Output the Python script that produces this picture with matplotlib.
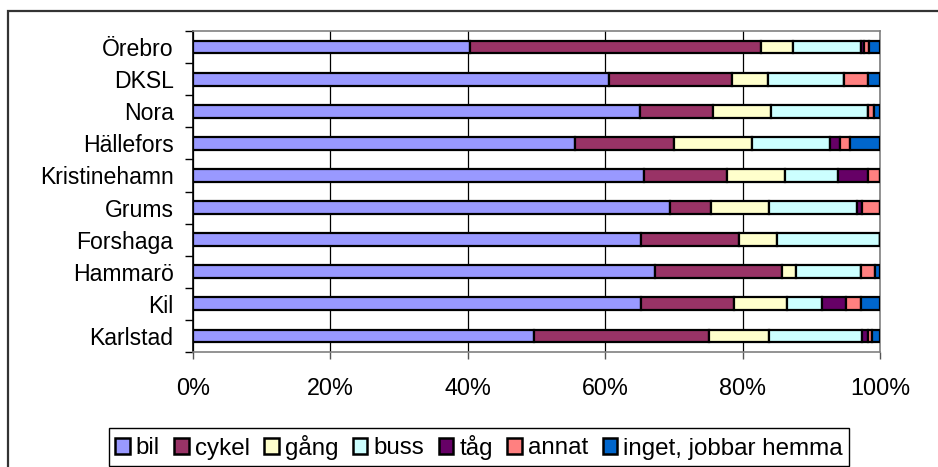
import numpy as np
import matplotlib
matplotlib.use("Agg")
import matplotlib.pyplot as plt
from matplotlib.patches import Patch, Rectangle
from matplotlib.ticker import FixedLocator, PercentFormatter

plt.rcParams['font.family'] = ['Liberation Sans', 'DejaVu Sans']

# kommuner, bottom to top as drawn
orter = ['Karlstad', 'Kil', 'Hammarö', 'Forshaga', 'Grums',
         'Kristinehamn', 'Hällefors', 'Nora', 'DKSL', 'Örebro']

# share of trips (%) per mode, same order as orter
bil = [49.6, 65.2, 67.2, 65.2, 69.4, 65.7, 55.6, 65.0, 60.6, 40.3]
cykel = [25.5, 13.5, 18.5, 14.3, 6.0, 12.0, 14.4, 10.7, 17.9, 42.4]
gang = [8.8, 7.8, 2.1, 5.5, 8.5, 8.5, 11.4, 8.4, 5.2, 4.7]
buss = [13.5, 5.0, 9.4, 15.0, 12.7, 7.7, 11.3, 14.2, 11.1, 9.8]
tag = [0.8, 3.5, 0.0, 0.0, 0.8, 4.3, 1.5, 0.0, 0.0, 0.5]
annat = [0.6, 2.2, 2.1, 0.0, 2.6, 1.8, 1.4, 0.8, 3.4, 0.7]
inget = [1.2, 2.8, 0.7, 0.0, 0.0, 0.0, 4.4, 0.9, 1.8, 1.6]

serier = ['bil', 'cykel', 'gång', 'buss', 'tåg', 'annat', 'inget, jobbar hemma']
farger = ['#9999FF', '#993366', '#FFFFCC', '#CCFFFF', '#660066', '#FF8080', '#0066CC']

data = np.array([bil, cykel, gang, buss, tag, annat, inget])

fig = plt.figure(figsize=(9.38, 4.67), dpi=100)
ax = fig.add_axes([193/938, 1 - 352/467, 687/938, 321/467])

y = np.arange(len(orter))
left = np.zeros(len(orter))
for vals, col in zip(data, farger):
    ax.barh(y, vals, left=left, height=0.4, color=col,
            edgecolor='black', linewidth=1.6, zorder=3)
    left += vals

ax.set_xlim(0, 100)
ax.set_ylim(-0.5, len(orter) - 0.5)
ax.xaxis.set_major_locator(FixedLocator([0, 20, 40, 60, 80, 100]))
ax.xaxis.set_major_formatter(PercentFormatter(decimals=0))
ax.grid(axis='x', color='black', linewidth=0.9, zorder=0)

# ticks between categories, labels at the centres
ax.yaxis.set_major_locator(FixedLocator(np.arange(-0.5, len(orter), 1.0)))
ax.yaxis.set_major_formatter(plt.NullFormatter())
ax.yaxis.set_minor_locator(FixedLocator(y))
ax.set_yticklabels(orter, minor=True)
ax.tick_params(axis='y', which='major', direction='out', length=6, width=1, color='black')
ax.tick_params(axis='y', which='minor', length=0, pad=14, labelsize=16.6)
ax.tick_params(axis='x', direction='out', length=5, width=1, color='#555555',
               pad=13, labelsize=16.8)

for side in ['top', 'right', 'bottom']:
    ax.spines[side].set_color('#808080')
    ax.spines[side].set_linewidth(1.2)
ax.spines['left'].set_color('black')
ax.spines['left'].set_linewidth(1.2)

# outer chart frame
fig.add_artist(Rectangle((8/938, -0.1), 1.2, 1 - 11/467 + 0.1, fill=False,
                         transform=fig.transFigure, linewidth=1.6,
                         edgecolor='#333333'))

handles = [Patch(facecolor=c, edgecolor='black', linewidth=1.8) for c in farger]
leg = fig.legend(handles, serier, loc='center', ncol=7,
                 bbox_to_anchor=(479/938, 1 - 447/467),
                 bbox_transform=fig.transFigure, fontsize=17.4,
                 frameon=True, fancybox=False, edgecolor='black', framealpha=1,
                 handlelength=0.6, handleheight=0.65, handletextpad=0.25,
                 columnspacing=0.6, borderpad=0.25, borderaxespad=0)
leg.get_frame().set_linewidth(1.0)

fig.savefig('out.png', dpi=100)
